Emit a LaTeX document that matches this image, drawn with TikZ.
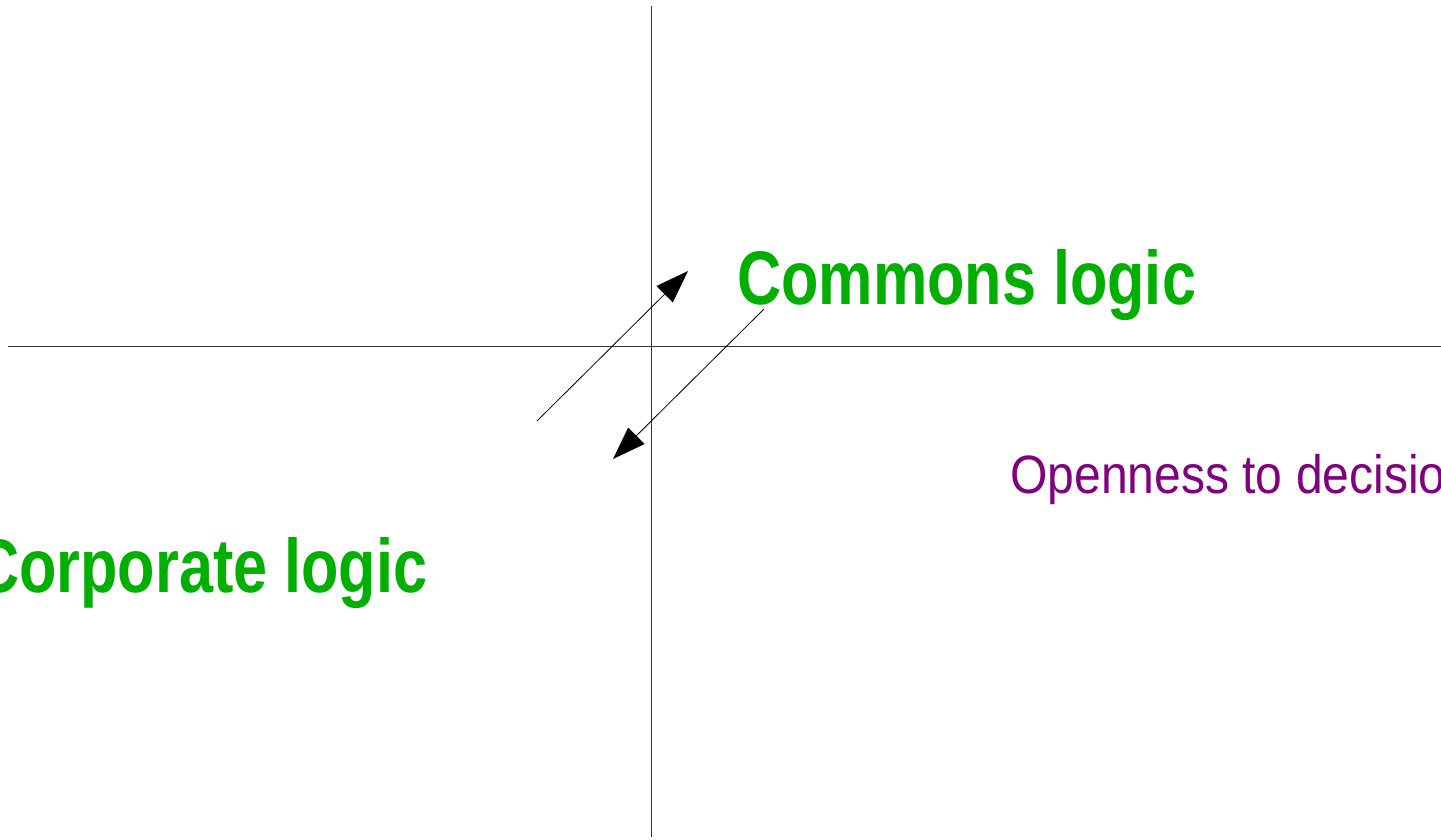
\documentclass[tikz,border=0pt]{standalone}
\usepackage{fontspec}
\setmainfont{Liberation Sans}
\usetikzlibrary{arrows.meta}
\definecolor{logicgreen}{RGB}{0,175,0}
\definecolor{openpurple}{RGB}{128,0,128}
\tikzset{
  axisline/.style={line width=1pt, black!80},
  flowarrow/.style={line width=0.8pt, black, -{Triangle[length=33pt,width=23pt,fill=black]}},
  biglabel/.style={inner sep=0pt, anchor=base west, text=logicgreen, font=\fontsize{76}{80}\selectfont\bfseries, xscale=0.805},
  sidelabel/.style={inner sep=0pt, anchor=base west, text=openpurple, font=\fontsize{54}{58}\selectfont, xscale=0.89}
}
\begin{document}
\begin{tikzpicture}[x=1pt,y=-1pt]
\useasboundingbox (0,0) rectangle (1441,839);
% axes
\coordinate (vtop) at (651,6);
\coordinate (vbot) at (651,837);
\coordinate (hleft) at (8,346);
\coordinate (hright) at (1441,346);
\draw[axisline] (vtop) -- (vbot);
\draw[axisline] (hleft) -- (hright);
% labels
\node[biglabel] (commons) at (737,304) {Commons logic};
\node[biglabel] (corporate) at (-25,592) {Corporate logic};
\node[sidelabel] (openness) at (1010,493) {Openness to decision};
% arrows
\coordinate (a1s) at (537,421);
\coordinate (a1e) at (688,271);
\coordinate (a2s) at (764,309);
\coordinate (a2e) at (613,459);
\draw[flowarrow] (a1s) -- (a1e);
\draw[flowarrow] (a2s) -- (a2e);
\end{tikzpicture}
\end{document}
